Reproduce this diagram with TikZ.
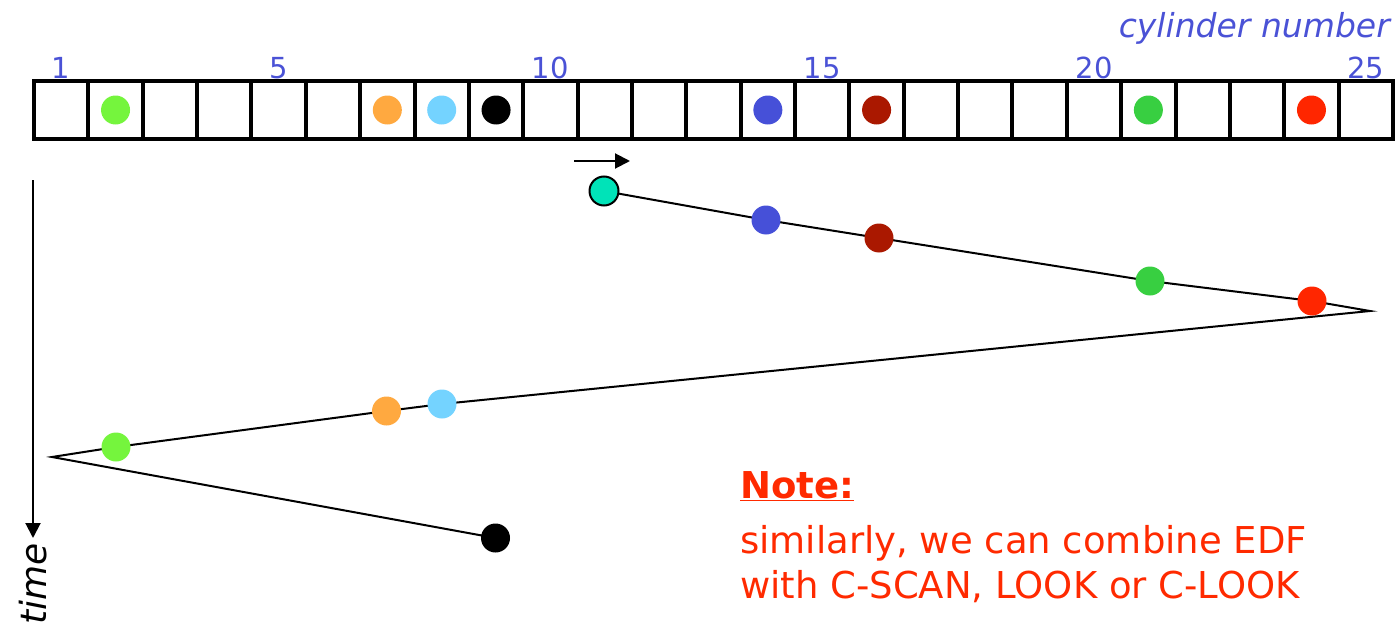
\documentclass[tikz,border=0pt]{standalone}
\usepackage{fontspec}
\setmainfont{DejaVu Sans}
\usetikzlibrary{arrows.meta,backgrounds}
\definecolor{lblue}{HTML}{4A52D6}
\definecolor{notered}{HTML}{FF2A00}
\definecolor{cLgreen}{HTML}{75F53D}
\definecolor{cOrange}{HTML}{FFA940}
\definecolor{cLblue}{HTML}{74D3FF}
\definecolor{cBlue}{HTML}{4650D8}
\definecolor{cDred}{HTML}{AA1800}
\definecolor{cGreen}{HTML}{38CF41}
\definecolor{cRed}{HTML}{FF2600}
\definecolor{cTeal}{HTML}{00E3B8}
\begin{document}
\begin{tikzpicture}[x=1pt,y=-1pt,
  cell/.style={draw, line width=4pt, minimum width=54.36pt, minimum height=58pt, inner sep=0pt, outer sep=0pt},
  dot/.style={circle, minimum size=29pt, inner sep=0pt, outer sep=0pt, draw=none},
  numlbl/.style={text=lblue, font=\fontsize{29}{31}\selectfont, inner sep=0pt},
  track/.style={line width=2pt, line join=miter},
  axis/.style={line width=2pt, -{Triangle[length=15pt,width=15pt]}},
  notetxt/.style={text=notered, font=\fontsize{37}{44}\selectfont, inner sep=0pt, anchor=base west}
]
\useasboundingbox (0,0) rectangle (1398,626);

% cylinder bar
\foreach \i in {1,...,25} {
  \node[cell] (c\i) at ({34+54.36*(\i-0.5)},110) {};
}
\foreach \n in {1,5,10,15,20,25} {
  \node[numlbl, anchor=base] (n\n) at ({34+54.36*(\n-0.5)},78) {\n};
}
\node[text=lblue, font=\fontsize{33}{36}\selectfont\itshape, inner sep=0pt, anchor=base east] (cyl) at (1390,38) {cylinder number};

% requests in the bar
\node[dot, fill=cLgreen] (b2) at (c2.center) {};
\node[dot, fill=cOrange] (b7) at (c7.center) {};
\node[dot, fill=cLblue] (b8) at (c8.center) {};
\node[dot, fill=black] (b9) at (c9.center) {};
\node[dot, fill=cBlue] (b14) at (c14.center) {};
\node[dot, fill=cDred] (b16) at (c16.center) {};
\node[dot, fill=cGreen] (b21) at (c21.center) {};
\node[dot, fill=cRed] (b24) at (c24.center) {};

% head direction arrow
\coordinate (ha) at (574,161);
\coordinate (hb) at (630,161);
\draw[axis] (ha) -- (hb);

% time axis
\coordinate (ta) at (33,180);
\coordinate (tb) at (33,538);
\draw[axis] (ta) -- (tb);
\node[font=\fontsize{36}{40}\selectfont\itshape, rotate=90, anchor=base east, inner sep=0pt] (tm) at (46,543) {time};

% trajectory dots
\node[dot, fill=cTeal, draw=black, line width=2pt] (h) at (604,191) {};
\node[dot, fill=cBlue] (t14) at (766,220) {};
\node[dot, fill=cDred] (t16) at (879,238) {};
\node[dot, fill=cGreen] (t21) at (1150,281) {};
\node[dot, fill=cRed] (t24) at (1312,301) {};
\coordinate (tr) at (1370,311);
\node[dot, fill=cLblue] (t8) at (442,404) {};
\node[dot, fill=cOrange] (t7) at (386.5,411) {};
\node[dot, fill=cLgreen] (t2) at (116,447) {};
\coordinate (tl) at (52,457);
\node[dot, fill=black] (t9) at (495.5,538) {};

\begin{scope}[on background layer]
\draw[track] (h.center) -- (t14.center) -- (t16.center) -- (t21.center) -- (t24.center) -- (tr)
  -- (t8.center) -- (t7.center) -- (t2.center) -- (tl) -- (t9.center);
\end{scope}

% note
\node[notetxt] (note0) at (740,498) {\bfseries\underline{Note:}};
\node[notetxt] (note1) at (740,553) {similarly, we can combine EDF};
\node[notetxt] (note2) at (740,598) {with C-SCAN, LOOK or C-LOOK};
\end{tikzpicture}
\end{document}
